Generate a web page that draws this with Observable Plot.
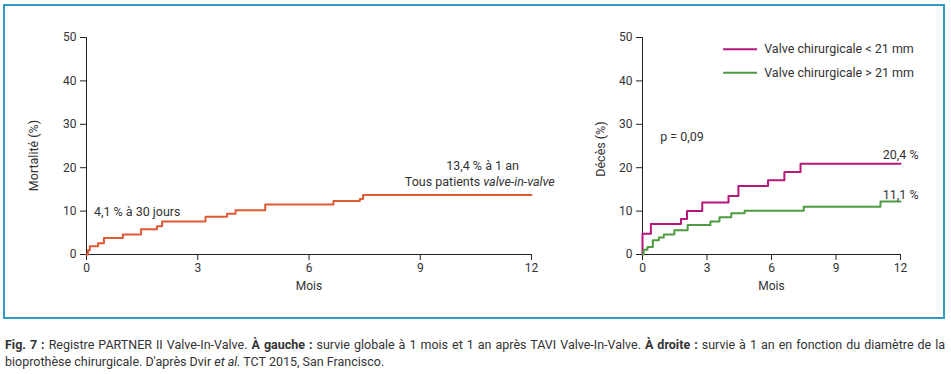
<!DOCTYPE html>
<html>
<head>
<meta charset="utf-8">
<script src="https://cdn.jsdelivr.net/npm/d3@7"></script>
<script src="https://cdn.jsdelivr.net/npm/@observablehq/plot@0.6"></script>
<style>
  html, body { margin: 0; padding: 0; background: #fff; }
  #wrap { position: relative; width: 951px; height: 374px; font-family: Roboto, sans-serif; color: #333; }
  #frame { position: absolute; left: 3px; top: 4px; width: 938px; height: 311px; border: 2px solid #2f9cc3; }
  .chart { position: absolute; top: 0; }
  .cap { position: absolute; left: 5px; width: 940px; font-size: 12.5px; line-height: 17px; color: #333; white-space: nowrap; }
  #cap1 { top: 336px; text-align: justify; text-align-last: justify; }
  #cap2 { top: 353px; }
</style>
</head>
<body>
<div id="wrap">
  <div id="frame"></div>
  <div id="left" class="chart" style="left:0px"></div>
  <div id="right" class="chart" style="left:560px"></div>
  <div id="cap1" class="cap"><b>Fig. 7 :</b> Registre PARTNER II Valve-In-Valve. <b>À gauche :</b> survie globale à 1 mois et 1 an après TAVI Valve-In-Valve. <b>À droite :</b> survie à 1 an en fonction du diamètre de la</div>
  <div id="cap2" class="cap">bioprothèse chirurgicale. D'après Dvir <i>et al.</i> TCT 2015, San Francisco.</div>
</div>
<script>
// ---- Data ----
const xTicks = [0, 3, 6, 9, 12];
const yTicks = [0, 10, 20, 30, 40, 50];

// Left: all valve-in-valve patients (months, mortality %)
const allMonths = [0, 0.04, 0.09, 0.31, 0.47, 0.98, 1.47, 1.90, 2.04, 3.21, 3.79, 4.02, 4.82, 6.66, 7.37, 7.46, 12];
const allMort   = [0, 1.0, 1.9, 2.6, 3.8, 4.6, 5.8, 6.5, 7.6, 8.7, 9.4, 10.2, 11.5, 12.3, 12.8, 13.7, 13.7];

// Right: by surgical valve size (months, deaths %)
const smallMonths = [0, 0, 0.39, 1.79, 2.07, 2.78, 4.0, 4.46, 5.84, 6.6, 7.35, 12];
const smallDeaths = [0, 4.8, 7.0, 8.2, 10.0, 12.0, 13.5, 15.8, 17.1, 19.0, 20.9, 20.9];
const largeMonths = [0, 0.05, 0.23, 0.48, 0.76, 0.99, 1.48, 2.1, 3.16, 3.58, 4.13, 4.75, 7.5, 11.07, 12];
const largeDeaths = [0, 1.1, 1.7, 3.3, 3.9, 4.6, 5.6, 6.8, 7.6, 8.6, 9.5, 10.1, 11.0, 12.2, 12.2];

const seriesNames = ["Valve chirurgicale < 21 mm", "Valve chirurgicale > 21 mm"];
const seriesColors = ["#b5177b", "#4d9d40"];
const endLabels = ["20,4 %", "11,1 %"];

const orange = "#e05a36";
const ink = "#333";
const font = "Roboto, sans-serif";
const fs = 12.5;

const toRows = (xs, ys) => xs.map((x, i) => ({x, y: ys[i]}));

function axes(yLabel, labelOffset, labelY) {
  return [
    Plot.axisY(yTicks, {tickSize: 6, tickPadding: 4, fontSize: 12, fill: ink, stroke: "#222", label: null}),
    Plot.axisX(xTicks, {tickSize: 6, tickPadding: 3, fontSize: 12, fill: ink, stroke: "#222",
      label: "Mois", labelAnchor: "center", labelArrow: "none", labelOffset: 35}),
    Plot.text([yLabel], {frameAnchor: "left", y: labelY, dx: -labelOffset, rotate: -90, text: d => d,
      textAnchor: "middle", fontSize: fs, fill: ink}),
    Plot.ruleX([0], {stroke: "#222"}),
    Plot.ruleY([0], {stroke: "#222"})
  ];
}

const common = {
  height: 310,
  marginTop: 37,
  marginBottom: 56,
  x: {domain: [0, 12]},
  y: {domain: [0, 50]},
  style: {background: "transparent", overflow: "visible", fontFamily: font, fontSize: fs + "px", color: ink}
};

// ---- Left chart ----
const left = Plot.plot({
  ...common,
  width: 560,
  marginLeft: 86,
  marginRight: 29,
  marks: [
    ...axes("Mortalité (%)", 53, 22.8),
    Plot.line(toRows(allMonths, allMort), {x: "x", y: "y", curve: "step-after", stroke: orange, strokeWidth: 2}),
    Plot.text(["4,1 % à 30 jours"], {x: 0.2, y: 9.7, text: d => d, textAnchor: "start", fontSize: fs, fill: ink}),
    Plot.text(["13,4 % à 1 an"], {x: 10.68, y: 20.5, text: d => d, textAnchor: "middle", fontSize: fs, fill: ink}),
    Plot.text(["Tous patients"], {x: 10.62, y: 16.8, text: d => d, textAnchor: "end", fontSize: fs, fill: ink}),
    Plot.text(["valve-in-valve"], {x: 10.70, y: 16.8, text: d => d, textAnchor: "start", fontSize: fs, fontStyle: "italic", fill: ink})
  ]
});
document.getElementById("left").appendChild(left);

// ---- Right chart ----
const rightRows = [
  ...toRows(smallMonths, smallDeaths).map(d => ({...d, s: seriesNames[0]})),
  ...toRows(largeMonths, largeDeaths).map(d => ({...d, s: seriesNames[1]}))
];
const legendRows = seriesNames.map((s, i) => ({s, color: seriesColors[i], y: [47.3, 41.9][i]}));

const right = Plot.plot({
  ...common,
  width: 391,
  marginLeft: 82,
  marginRight: 51,
  color: {domain: seriesNames, range: seriesColors},
  marks: [
    ...axes("Décès (%)", 42, 24.3),
    Plot.line(rightRows, {x: "x", y: "y", z: "s", stroke: "s", curve: "step-after", strokeWidth: 2}),
    Plot.text(["p = 0,09"], {x: 0.82, y: 27.0, text: d => d, textAnchor: "start", fontSize: fs, fill: ink}),
    Plot.text(endLabels, {x: 12.84, y: [22.9, 13.7], text: d => d, textAnchor: "end", fontSize: fs, fill: ink}),
    Plot.link(legendRows, {x1: 3.75, x2: 5.33, y1: "y", y2: "y", stroke: "color", strokeWidth: 2}),
    Plot.text(legendRows, {x: 5.66, y: "y", text: "s", textAnchor: "start", fontSize: fs, fill: ink})
  ]
});
document.getElementById("right").appendChild(right);
</script>
</body>
</html>
